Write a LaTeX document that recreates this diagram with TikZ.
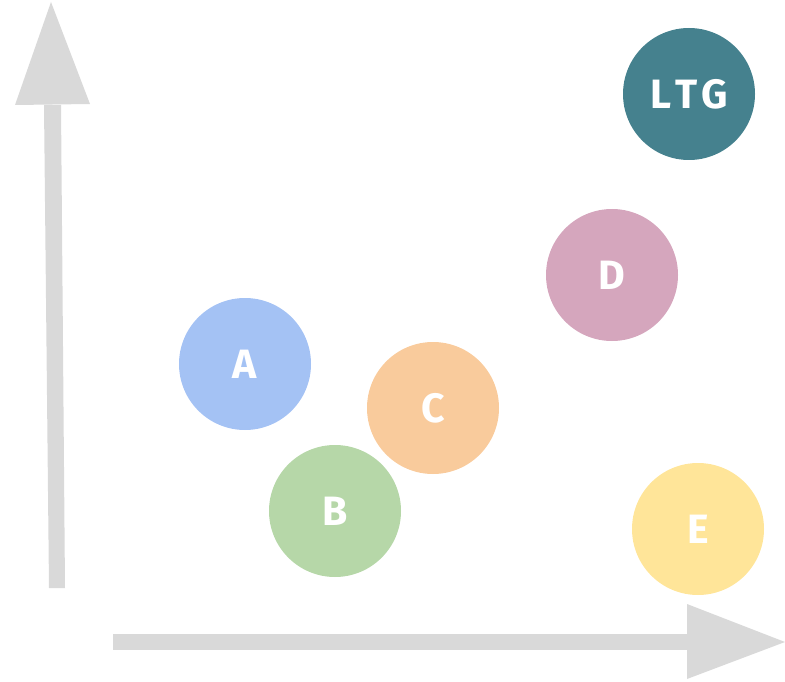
\documentclass[tikz,border=0pt]{standalone}
\usepackage{fontspec}
\setmainfont{Fira Sans}
\definecolor{axisgray}{HTML}{D9D9D9}
\definecolor{cA}{HTML}{A4C2F4}
\definecolor{cB}{HTML}{B6D7A8}
\definecolor{cC}{HTML}{F9CB9C}
\definecolor{cD}{HTML}{D5A6BD}
\definecolor{cE}{HTML}{FFE599}
\definecolor{cL}{HTML}{45818E}
\tikzset{
  bubble/.style={circle, minimum size=132pt, inner sep=0pt, text=white,
    font=\fontsize{41}{44}\selectfont\bfseries}
}
\begin{document}
\begin{tikzpicture}[x=1pt,y=-1pt]
\useasboundingbox (0,0) rectangle (785,682);
% vertical axis
\fill[axisgray] (44,105) -- (61,105) -- (65,588) -- (49,588) -- cycle;
\fill[axisgray] (15,105) -- (90,104) -- (51,2) -- cycle;
% horizontal axis
\fill[axisgray] (113,634) -- (688,634) -- (688,650) -- (113,650) -- cycle;
\fill[axisgray] (687,604) -- (687,679) -- (785,642) -- cycle;
% bubbles
\node[bubble, fill=cA] (a) at (245,364) {A};
\node[bubble, fill=cB] (b) at (335,511) {B};
\node[bubble, fill=cC] (c) at (433,408) {C};
\node[bubble, fill=cD] (d) at (612,275) {D};
\node[bubble, fill=cE] (e) at (698,529) {E};
\node[bubble, fill=cL] (ltg) at (689,94) {L\kern4pt T\kern4pt G};
\end{tikzpicture}
\end{document}
